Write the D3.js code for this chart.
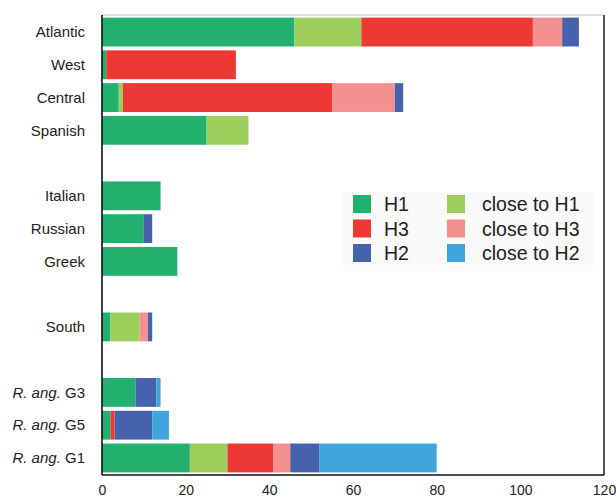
<!DOCTYPE html>
<html>
<head>
<meta charset="utf-8">
<script src="https://cdn.jsdelivr.net/npm/d3@7"></script>
<style>
  body { margin: 0; background: #fff; }
  svg { font-family: "Liberation Sans", Arial, sans-serif; }
</style>
</head>
<body>
<svg></svg>
<script>
// ====== données ====== //
const categories = ["Atlantic", "West", "Central", "Spanish", "Italian", "Russian", "Greek",
                    "South", "R. ang. G3", "R. ang. G5", "R. ang. G1"];
// lignes vides entre les groupes
const rowOrder = ["Atlantic", "West", "Central", "Spanish", "gap1", "Italian", "Russian", "Greek",
                  "gap2", "South", "gap3", "R. ang. G3", "R. ang. G5", "R. ang. G1"];

const seriesNames = ["H1", "close to H1", "H3", "close to H3", "H2", "close to H2"];
const h1       = [46,  1,  4, 25, 14, 10, 18, 2,  8,  2, 21];
const closeH1  = [16,  0,  1, 10,  0,  0,  0, 7,  0,  0,  9];
const h3       = [41, 31, 50,  0,  0,  0,  0, 0,  0,  1, 11];
const closeH3  = [ 7,  0, 15,  0,  0,  0,  0, 2,  0,  0,  4];
const h2       = [ 4,  0,  2,  0,  0,  2,  0, 1,  5,  9,  7];
const closeH2  = [ 0,  0,  0,  0,  0,  0,  0, 0,  1,  4, 28];

const colors = ["#22b06e", "#9dcd5a", "#ee3833", "#f39191", "#4762ad", "#40a5dc"];
const xTicks = [0, 20, 40, 60, 80, 100, 120];

// ordre de la légende (colonne gauche puis droite)
const legendOrder = ["H1", "H3", "H2", "close to H1", "close to H3", "close to H2"];

// ====== dimensions ====== //
const width = 616, height = 498;
const plot = { left: 102, right: 604, top: 15, bottom: 475 };

const svg = d3.select("svg").attr("width", width).attr("height", height);

const x = d3.scaleLinear().domain([0, 120]).range([plot.left, plot.right]);
const y = d3.scaleBand().domain(rowOrder).range([plot.top, plot.bottom])
  .paddingInner(0.12).paddingOuter(0.08);

// table pour d3.stack
const seriesValues = [h1, closeH1, h3, closeH3, h2, closeH2];
const table = categories.map((c, i) => {
  const row = { cat: c };
  seriesNames.forEach((s, k) => row[s] = seriesValues[k][i]);
  return row;
});
const stacked = d3.stack().keys(seriesNames)(table);

// barres
svg.append("g").selectAll("g")
  .data(stacked)
  .join("g")
  .attr("fill", (d, k) => colors[k])
  .selectAll("rect")
  .data(d => d.filter(p => p[1] > p[0]))
  .join("rect")
  .attr("x", d => x(d[0]))
  .attr("width", d => x(d[1]) - x(d[0]))
  .attr("y", d => y(d.data.cat))
  .attr("height", y.bandwidth());

// cadre
svg.append("line").attr("x1", plot.left).attr("x2", plot.right)
  .attr("y1", plot.top).attr("y2", plot.top).attr("stroke", "#bbb").attr("stroke-width", 1.2);
svg.append("line").attr("x1", plot.right).attr("x2", plot.right)
  .attr("y1", plot.top).attr("y2", plot.bottom).attr("stroke", "#555").attr("stroke-width", 2);
svg.append("line").attr("x1", plot.left).attr("x2", plot.left)
  .attr("y1", plot.top).attr("y2", plot.bottom).attr("stroke", "#111").attr("stroke-width", 1.6);
svg.append("line").attr("x1", plot.left).attr("x2", plot.right)
  .attr("y1", plot.bottom).attr("y2", plot.bottom).attr("stroke", "#111").attr("stroke-width", 1.6);

// axe x
const xAxis = svg.append("g")
  .attr("transform", `translate(0,${plot.bottom})`)
  .call(d3.axisBottom(x).tickValues(xTicks).tickSize(0).tickPadding(10));
xAxis.select(".domain").remove();
xAxis.selectAll("text").attr("font-size", 14).attr("fill", "#222")
  .attr("font-family", "Liberation Sans, Arial, sans-serif");

// étiquettes y
const labels = svg.append("g").selectAll("text")
  .data(categories)
  .join("text")
  .attr("x", plot.left - 17)
  .attr("y", d => y(d) + y.bandwidth() / 2)
  .attr("dy", "0.35em")
  .attr("text-anchor", "end")
  .attr("font-size", 15)
  .attr("fill", "#222");

labels.each(function(d) {
  const t = d3.select(this);
  if (d.startsWith("R. ang.")) {
    t.append("tspan").attr("font-style", "italic").text("R. ang.");
    t.append("tspan").text(d.slice(7));
  } else {
    t.text(d);
  }
});

// légende
const legend = svg.append("g");
legend.append("rect").attr("x", 343).attr("y", 192).attr("width", 250).attr("height", 79)
  .attr("fill", "#fafafa");

legend.selectAll("g.item")
  .data(legendOrder)
  .join("g")
  .attr("class", "item")
  .attr("transform", (d, i) => `translate(${i < 3 ? 353 : 447},${195 + (i % 3) * 24.5})`)
  .each(function(d) {
    const g = d3.select(this);
    g.append("rect").attr("width", 18).attr("height", 18)
      .attr("fill", colors[seriesNames.indexOf(d)]);
    g.append("text").attr("x", d.length < 3 ? 31 : 35).attr("y", 9).attr("dy", "0.36em")
      .attr("font-size", 19.5).attr("fill", "#222").text(d);
  });
</script>
</body>
</html>
